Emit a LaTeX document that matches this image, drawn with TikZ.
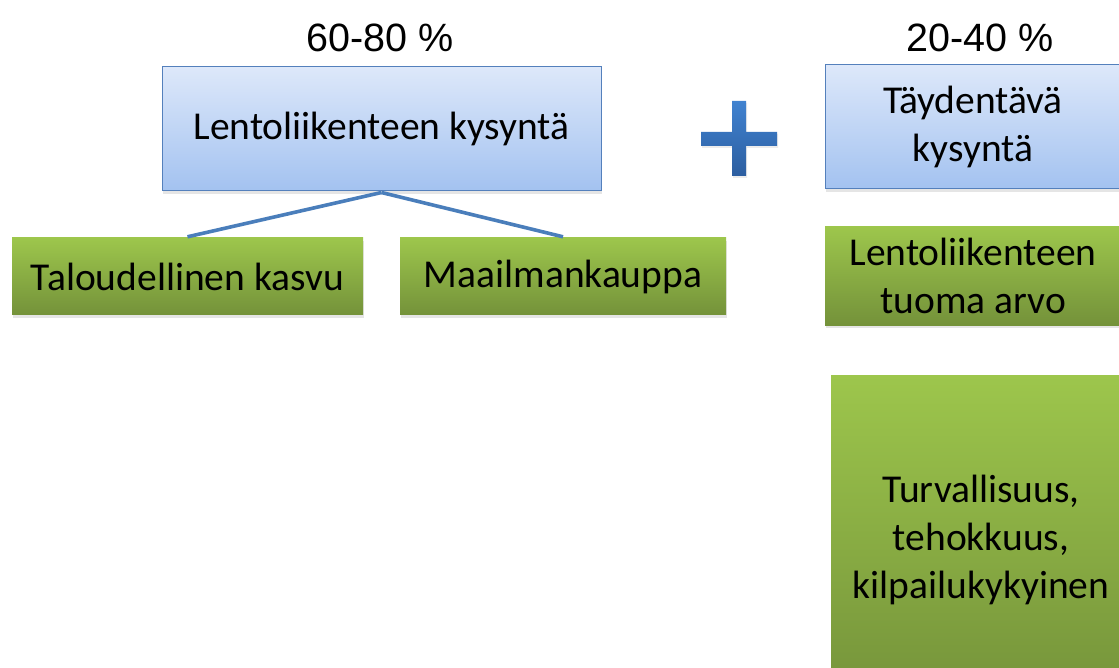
\documentclass[tikz,border=0pt]{standalone}
\usepackage{fontspec}
\setmainfont{Carlito}
\newfontfamily\arialfont{Liberation Sans}
\usetikzlibrary{shadows}
\definecolor{bluetop}{RGB}{221,232,250}
\definecolor{bluebot}{RGB}{163,194,240}
\definecolor{blueedge}{RGB}{84,128,188}
\definecolor{greentop}{RGB}{157,198,76}
\definecolor{greenbot}{RGB}{116,146,58}
\definecolor{linecol}{RGB}{74,126,187}
\definecolor{plustop}{RGB}{64,130,208}
\definecolor{plusbot}{RGB}{44,94,160}
\tikzset{
  x=1pt, y=-1pt,
  boxtext/.style={font=\fontsize{39.5}{48}\selectfont, align=center, text=black, inner sep=0pt},
  bluebox/.style={boxtext, rectangle, draw=blueedge, line width=1pt, top color=bluetop, bottom color=bluebot,
    drop shadow={shadow xshift=1pt, shadow yshift=-3pt, opacity=0.2}},
  greenbox/.style={boxtext, rectangle, draw=none, top color=greentop, bottom color=greenbot,
    drop shadow={shadow xshift=1pt, shadow yshift=-3pt, opacity=0.2}},
  pct/.style={font=\arialfont\fontsize{39.5}{44}\selectfont, inner sep=0pt},
  conn/.style={draw=linecol, line width=3.6pt}
}
\begin{document}
\begin{tikzpicture}
\useasboundingbox (0,0) rectangle (1119,668);
\clip (0,0) rectangle (1119,668);
\fill[white] (0,0) rectangle (1119,668);

\node[pct] (p1) at (380,38) {60-80 \%};
\node[pct] (p2) at (980,38) {20-40 \%};

\node[bluebox, minimum width=439pt, minimum height=124pt] (b1) at (381.5,129) {Lentoliikenteen kysyntä};
\node[bluebox, minimum width=296pt, minimum height=124pt] (b2) at (973,127) {Täydentävä\\kysyntä};

\node[greenbox, minimum width=351pt, minimum height=77pt] (g1) at (187.5,276.5) {Taloudellinen kasvu};
\node[greenbox, minimum width=326pt, minimum height=77pt] (g2) at (563,276.5) {Maailmankauppa};
\node[greenbox, minimum width=296pt, minimum height=98pt] (g3) at (973,276) {Lentoliikenteen\\tuoma arvo};
\node[greenbox, minimum width=300pt, minimum height=330pt] (g4) at (981,540) {Turvallisuus,\\tehokkuus,\\kilpailukykyinen};

\draw[conn] ([yshift=-1pt]b1.south) -- ([yshift=1pt]g1.north);
\draw[conn] ([yshift=-1pt]b1.south) -- ([yshift=1pt]g2.north);

% plus sign
\path[top color=plustop, bottom color=plusbot, drop shadow={shadow xshift=1pt, shadow yshift=-2pt, opacity=0.15}]
  (732,101) -- (746,101) -- (746,132) -- (777,132) -- (777,146) -- (746,146) -- (746,176)
  -- (732,176) -- (732,146) -- (701,146) -- (701,132) -- (732,132) -- cycle;
\end{tikzpicture}
\end{document}
